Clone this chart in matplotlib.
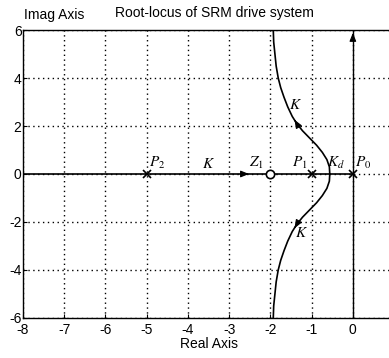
import numpy as np
import matplotlib
matplotlib.use("Agg")
import matplotlib.pyplot as plt

plt.rcParams["font.family"] = ["Liberation Sans", "DejaVu Sans"]
plt.rcParams["mathtext.fontset"] = "stix"
plt.rcParams["axes.unicode_minus"] = False

# poles and zero on the real axis
poles = [-5, -1, 0]
zeros = [-2]

# upper branch of the locus (real, imag)
branch_re = [-0.56, -0.57, -0.63, -0.74, -0.88, -1.05, -1.22, -1.36, -1.47, -1.58, -1.67, -1.75, -1.81, -1.86, -1.89, -1.92, -1.93]
branch_im = [0.0, 0.3, 0.6, 0.9, 1.2, 1.5, 1.8, 2.1, 2.4, 2.8, 3.2, 3.6, 4.0, 4.5, 5.0, 5.5, 6.0]

xticks = [-8, -7, -6, -5, -4, -3, -2, -1, 0]
yticks = [-6, -4, -2, 0, 2, 4, 6]

fig = plt.figure(figsize=(3.89, 3.58), dpi=100)
ax = fig.add_axes([0.0591, 0.112, 0.954, 0.804])

# real-axis and imaginary-axis segments
ax.plot([-8, 0], [0, 0], color="black", lw=1.2)
ax.plot([0, 0], [-6, 6], color="black", lw=1.0)

# complex branches
br = np.array(branch_re)
bi = np.array(branch_im)
ax.plot(br, bi, color="black", lw=1.2)
ax.plot(br, -bi, color="black", lw=1.2)

# markers
ax.plot(poles, [0] * len(poles), "x", color="black", ms=6, mew=1.2)
ax.plot(zeros, [0] * len(zeros), "o", mfc="white", mec="black", ms=6, mew=1.2)

# arrows
arr = dict(arrowstyle="-|>,head_length=0.5,head_width=0.2", color="black", lw=0.8)
ax.annotate("", xy=(-2.45, 0), xytext=(-2.8, 0), arrowprops=arr)
ax.annotate("", xy=(0, 6.0), xytext=(0, 5.5), arrowprops=arr)
ax.annotate("", xy=(-1.45, 2.36), xytext=(-1.36, 2.1), arrowprops=arr)
ax.annotate("", xy=(-1.45, -2.36), xytext=(-1.36, -2.1), arrowprops=arr)

# labels on the plot
lab = dict(fontsize=11, ha="center")
ax.text(-4.74, 0.12, "$P_2$", va="bottom", **lab)
ax.text(-3.5, 0.12, "$K$", va="bottom", **lab)
ax.text(-2.33, 0.12, "$Z_1$", va="bottom", **lab)
ax.text(-1.28, 0.12, "$P_1$", va="bottom", **lab)
ax.text(-0.41, 0.12, "$K_d$", va="bottom", **lab)
ax.text(0.24, 0.12, "$P_0$", va="bottom", **lab)
ax.text(-1.40, 2.86, "$K$", va="center", **lab)
ax.text(-1.25, -2.45, "$K$", va="center", **lab)

ax.set_xlim(-8, 1)
ax.set_ylim(-6, 6)
ax.set_xticks(xticks)
ax.set_yticks(yticks)
ax.tick_params(direction="in", length=3, labelsize=10, colors="black")
ax.tick_params(axis="x", pad=4)
ax.tick_params(axis="y", pad=1)
ax.grid(True, linestyle=(0, (1, 2.5)), color="black", lw=1.0)
for s in ax.spines.values():
    s.set_color("black")
    s.set_linewidth(1.0)

ax.set_xlabel("Real Axis", fontsize=10, labelpad=0)
fig.text(0.55, 0.965, "Root-locus of SRM drive system", ha="center", va="center", fontsize=10)
fig.text(0.14, 0.958, "Imag Axis", ha="center", va="center", fontsize=10)

fig.savefig("out.png", dpi=100)
